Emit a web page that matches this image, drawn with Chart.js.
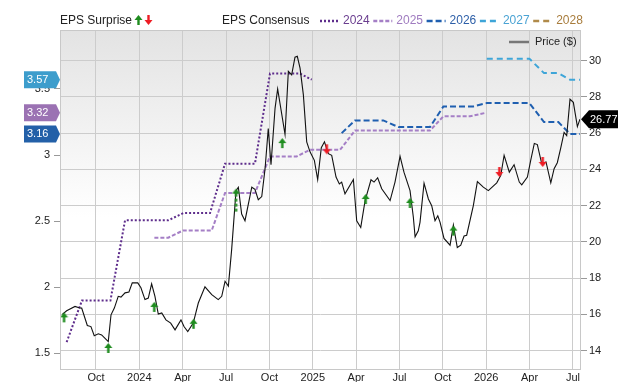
<!DOCTYPE html>
<html lang="en">
<head>
<meta charset="UTF-8">
<title>EPS Surprise and Consensus</title>
<script src="https://cdn.jsdelivr.net/npm/chart.js"></script>
<style>
  html, body { margin: 0; padding: 0; background: #fff; }
</style>
</head>
<body>
<canvas id="epsChart" width="640" height="382"></canvas>
<script>
// x is counted in months from Jan 2023 (9 = Oct 2023, 12 = Jan 2024 ...)
const xTicks = [9, 12, 15, 18, 21, 24, 27, 30, 33, 36, 39, 42];
const xTickLabels = ['Oct', '2024', 'Apr', 'Jul', 'Oct', '2025', 'Apr', 'Jul', 'Oct', '2026', 'Apr', 'Jul'];
const epsTicks = [1.5, 2, 2.5, 3, 3.5];
const priceTicks = [14, 16, 18, 20, 22, 24, 26, 28, 30];

const priceMonths = [6.67, 6.97, 7.55, 7.82, 8.01, 8.40, 8.65, 8.88, 9.16, 9.39, 9.85, 10.04, 10.27, 10.54, 10.73,
  11.01, 11.28, 11.51, 11.89, 12.11, 12.39, 12.62, 12.85, 13.08, 13.31, 13.55, 13.84, 14.17, 14.47, 14.88,
  15.09, 15.35, 15.73, 16.08, 16.54, 17.01, 17.46, 17.70, 17.93, 18.16, 18.39, 18.69, 18.85, 19.08, 19.31,
  19.78, 20.00, 20.23, 20.47, 20.70, 20.92, 21.11, 21.39, 21.57, 22.08, 22.31, 22.54, 22.77, 22.93, 23.12,
  23.35, 23.58, 23.81, 24.11, 24.34, 24.59, 24.81, 25.08, 25.31, 25.61, 25.84, 26.00, 26.23, 26.81, 27.04,
  27.32, 27.62, 28.03, 28.24, 28.49, 28.77, 29.35, 29.69, 30.04, 30.31, 30.73, 30.96, 31.08, 31.30, 31.42,
  31.70, 32.00, 32.23, 32.46, 32.65, 32.81, 33.08, 33.50, 33.73, 34.00, 34.24, 34.47, 34.65, 35.11, 35.39,
  35.80, 36.15, 36.73, 37.01, 37.24, 37.60, 37.93, 38.29, 38.46, 38.85, 39.08, 39.33, 39.54, 39.84, 40.14,
  40.47, 40.70, 40.92, 41.16, 41.39, 41.57, 41.80, 42.03, 42.31, 42.49];
const priceValues = [16.0, 16.2, 16.44, 16.37, 16.35, 15.39, 15.33, 14.83, 14.93, 14.87, 14.5, 15.98, 16.35, 17.0, 16.96,
  17.19, 17.24, 17.74, 17.74, 17.47, 16.82, 16.9, 17.69, 17.0, 16.02, 16.08, 15.7, 15.52, 15.15, 15.7,
  15.33, 15.06, 15.52, 16.63, 17.52, 17.09, 16.82, 17.0, 17.83, 17.56, 19.6, 22.83, 23.02, 21.54, 21.17,
  23.02, 22.9, 22.33, 22.5, 24.04, 26.26, 24.26, 27.37, 28.44, 25.93, 29.41, 29.22, 30.19, 30.24, 29.59,
  28.11, 25.52, 24.97, 24.5, 23.44, 25.2, 25.52, 24.87, 24.78, 23.58, 23.2, 23.3, 22.65, 23.44, 21.17,
  20.8, 22.28, 23.43, 23.3, 23.54, 22.93, 22.28, 23.3, 24.72, 23.85, 22.83, 21.36, 20.28, 20.61, 21.08,
  23.24, 22.37, 22.0, 21.17, 21.44, 21.08, 20.19, 19.82, 20.93, 19.69, 19.82, 20.33, 20.37, 22.0, 23.33,
  23.02, 22.83, 23.26, 23.67, 24.78, 23.85, 24.26, 23.3, 23.15, 23.58, 24.5, 25.43, 25.37, 24.32, 24.41,
  23.26, 24.04, 24.37, 25.19, 26.04, 25.86, 27.87, 27.7, 26.36, 26.77];

// EPS consensus by fiscal year
const cons2024Months = [6.97, 8.03, 10.0, 11.01, 14.0, 15.04, 16.89, 17.93, 20.0, 21.04, 23.12, 23.93];
const cons2024Values = [1.585, 1.90, 1.90, 2.506, 2.506, 2.561, 2.561, 2.935, 2.935, 3.616, 3.616, 3.57];
const cons2025Months = [13.04, 14.0, 15.04, 17.01, 17.93, 20.0, 21.04, 22.89, 23.81, 25.89, 26.92, 32.11, 33.04, 34.88, 35.99];
const cons2025Values = [2.375, 2.375, 2.43, 2.43, 2.713, 2.713, 2.99, 2.99, 3.04, 3.04, 3.185, 3.185, 3.293, 3.293, 3.32];
const cons2026Months = [26.0, 26.92, 28.88, 29.92, 32.11, 33.04, 35.11, 36.04, 38.99, 40.0, 40.99, 41.8, 42.49];
const cons2026Values = [3.166, 3.262, 3.262, 3.212, 3.212, 3.368, 3.368, 3.393, 3.393, 3.25, 3.25, 3.16, 3.16];
const cons2027Months = [36.04, 38.99, 40.0, 41.0, 41.8, 42.49];
const cons2027Values = [3.729, 3.729, 3.62, 3.62, 3.57, 3.57];
const cons2028Months = [];
const cons2028Values = [];
const consYears = ['2024', '2025', '2026', '2027', '2028'];

// reported EPS with surprise direction
const surpriseMonths = [6.79, 9.85, 13.03, 15.75, 18.69, 21.89, 24.97, 27.66, 30.73, 33.73, 36.91, 39.91];
const surpriseEps = [1.78, 1.548, 1.859, 1.731, 2.716, 3.098, 3.036, 2.675, 2.645, 2.436, 2.864, 2.94];
const surpriseDir = ['up', 'up', 'up', 'up', 'up', 'up', 'down', 'up', 'up', 'up', 'down', 'down'];

const FONT = '"Liberation Sans", Arial, sans-serif';
const GREEN = '#1e8c1e';
const RED = '#ee1c24';
const yearStyle = {
  '2024': { color: '#5e2d8c', text: '#6a3d8f', dash: [2, 2] },
  '2025': { color: '#a57fc6', text: '#a07cc0', dash: [4, 2] },
  '2026': { color: '#1f5fb0', text: '#2d5fa8', dash: [6, 3] },
  '2027': { color: '#3ea5d8', text: '#4aa3d4', dash: [6, 4] },
  '2028': { color: '#b08a4a', text: '#a87c3c', dash: [6, 4] }
};

function toPoints(xs, ys) {
  return xs.map((x, i) => ({ x: x, y: ys[i] }));
}

// little arrow images for the surprise markers; head sits at the canvas centre
function makeArrow(color, dir, stemLen, dashed) {
  const c = document.createElement('canvas');
  c.width = 9;
  c.height = 2 * (stemLen + 2) + 2;
  const g = c.getContext('2d');
  const cy = c.height / 2;
  g.fillStyle = color;
  g.strokeStyle = color;
  g.lineWidth = 2.4;
  const s = dir === 'up' ? 1 : -1;
  g.beginPath();
  g.moveTo(4.5, cy - 4 * s);
  g.lineTo(8.5, cy + 1 * s);
  g.lineTo(0.5, cy + 1 * s);
  g.closePath();
  g.fill();
  if (dashed) g.setLineDash([3, 2]);
  g.beginPath();
  g.moveTo(4.5, cy + 1 * s);
  g.lineTo(4.5, cy + (1 + stemLen) * s);
  g.stroke();
  return c;
}

const arrowUp = makeArrow(GREEN, 'up', 5, false);
const arrowDown = makeArrow(RED, 'down', 5, false);
const arrowUpLong = makeArrow(GREEN, 'up', 19, true);
const surpriseStyles = surpriseDir.map((d, i) => {
  if (d === 'down') return arrowDown;
  return (i === 4) ? arrowUpLong : arrowUp;
});

function consDataset(year, xs, ys) {
  const st = yearStyle[year];
  return {
    label: year,
    data: toPoints(xs, ys),
    yAxisID: 'y',
    borderColor: st.color,
    borderWidth: 2,
    borderDash: st.dash,
    pointRadius: 0,
    tension: 0,
    fill: false,
    order: 2
  };
}

const bgPlugin = {
  id: 'plotBg',
  beforeDraw(chart) {
    const { ctx, chartArea: a } = chart;
    const grad = ctx.createLinearGradient(0, a.top, 0, a.bottom);
    grad.addColorStop(0, '#e3e3e3');
    grad.addColorStop(0.55, '#ffffff');
    grad.addColorStop(1, '#ffffff');
    ctx.save();
    ctx.fillStyle = grad;
    ctx.fillRect(a.left, a.top, a.right - a.left, a.bottom - a.top);
    ctx.restore();
  }
};

const overlayPlugin = {
  id: 'overlay',
  afterDraw(chart) {
    const { ctx, chartArea: a } = chart;
    const yEps = chart.scales.y;
    const yPrice = chart.scales.y1;
    ctx.save();

    // plot frame
    ctx.strokeStyle = '#c8c8c8';
    ctx.lineWidth = 1;
    ctx.strokeRect(a.left + 0.5, a.top + 0.5, a.right - a.left - 1, a.bottom - a.top - 1);

    // top legend
    ctx.font = '12px ' + FONT;
    ctx.textBaseline = 'middle';
    ctx.textAlign = 'left';
    ctx.fillStyle = '#222';
    ctx.fillText('EPS Surprise', 60, 21);
    ctx.drawImage(arrowUp, 138.5 - arrowUp.width / 2, 19 - arrowUp.height / 2);
    ctx.drawImage(arrowDown, 148.5 - arrowDown.width / 2, 21 - arrowDown.height / 2);
    ctx.fillStyle = '#222';
    ctx.fillText('EPS Consensus', 222, 21);
    consYears.forEach((yr, i) => {
      const st = yearStyle[yr];
      const x0 = 320 + i * 53.3;
      ctx.strokeStyle = st.color;
      ctx.lineWidth = 2.5;
      ctx.setLineDash(st.dash);
      ctx.beginPath();
      ctx.moveTo(x0, 21);
      ctx.lineTo(x0 + 19, 21);
      ctx.stroke();
      ctx.setLineDash([]);
      ctx.fillStyle = st.text;
      ctx.fillText(yr, x0 + 23, 21);
    });

    // price legend inside plot
    ctx.strokeStyle = '#777';
    ctx.lineWidth = 2.5;
    ctx.beginPath();
    ctx.moveTo(509, 42);
    ctx.lineTo(529, 42);
    ctx.stroke();
    ctx.fillStyle = '#222';
    ctx.font = '11px ' + FONT;
    ctx.fillText('Price ($)', 535, 42);

    // latest consensus badges on the left axis
    const badges = [
      { v: cons2027Values[cons2027Values.length - 1], c: '#3d9dcc' },
      { v: cons2025Values[cons2025Values.length - 1], c: '#9b72b3' },
      { v: cons2026Values[cons2026Values.length - 1], c: '#2360a8' }
    ];
    ctx.font = '11px ' + FONT;
    badges.forEach(b => {
      const y = yEps.getPixelForValue(b.v);
      ctx.fillStyle = b.c;
      ctx.beginPath();
      ctx.moveTo(24, y - 8.5);
      ctx.lineTo(56, y - 8.5);
      ctx.lineTo(60, y);
      ctx.lineTo(56, y + 8.5);
      ctx.lineTo(24, y + 8.5);
      ctx.closePath();
      ctx.fill();
      ctx.fillStyle = '#fff';
      ctx.fillText(b.v.toFixed(2), 27, y + 0.5);
    });

    // last price badge on the right axis
    const lastPrice = priceValues[priceValues.length - 1];
    const py = yPrice.getPixelForValue(lastPrice);
    ctx.fillStyle = '#000';
    ctx.beginPath();
    ctx.moveTo(581, py);
    ctx.lineTo(589, py - 9);
    ctx.lineTo(618, py - 9);
    ctx.lineTo(618, py + 9);
    ctx.lineTo(589, py + 9);
    ctx.closePath();
    ctx.fill();
    ctx.fillStyle = '#fff';
    ctx.fillText(lastPrice.toFixed(2), 590, py + 0.5);

    ctx.restore();
  }
};

const ctx = document.getElementById('epsChart').getContext('2d');

const epsChart = new Chart(ctx, {
  type: 'line',
  data: {
    datasets: [
      {
        label: 'EPS Surprise',
        data: toPoints(surpriseMonths, surpriseEps),
        yAxisID: 'y',
        showLine: false,
        pointStyle: surpriseStyles,
        pointRadius: 5,
        order: 0
      },
      {
        label: 'Price ($)',
        data: toPoints(priceMonths, priceValues),
        yAxisID: 'y1',
        borderColor: '#111',
        borderWidth: 1.1,
        pointRadius: 0,
        tension: 0,
        fill: false,
        order: 1
      },
      consDataset('2024', cons2024Months, cons2024Values),
      consDataset('2025', cons2025Months, cons2025Values),
      consDataset('2026', cons2026Months, cons2026Values),
      consDataset('2027', cons2027Months, cons2027Values),
      consDataset('2028', cons2028Months, cons2028Values)
    ]
  },
  options: {
    responsive: false,
    animation: false,
    devicePixelRatio: 1,
    layout: { padding: { top: 30, left: 0, right: 0, bottom: 0 } },
    plugins: {
      legend: { display: false },
      tooltip: { enabled: false }
    },
    scales: {
      x: {
        type: 'linear',
        min: 6.51,
        max: 42.56,
        afterBuildTicks: axis => { axis.ticks = xTicks.map(v => ({ value: v })); },
        afterFit: axis => { axis.height = 12; },
        ticks: {
          autoSkip: false,
          maxRotation: 0,
          padding: 1,
          color: '#222',
          font: { size: 11, family: FONT },
          callback: v => {
            const i = xTicks.indexOf(v);
            return i >= 0 ? xTickLabels[i] : '';
          }
        },
        grid: { color: '#cccccc', tickLength: 0 },
        border: { display: false }
      },
      y: {
        position: 'left',
        min: 1.374,
        max: 3.946,
        afterBuildTicks: axis => { axis.ticks = epsTicks.map(v => ({ value: v })); },
        afterFit: axis => { axis.width = 60; },
        ticks: {
          padding: 4,
          color: '#222',
          font: { size: 11, family: FONT },
          callback: v => String(v)
        },
        grid: { drawOnChartArea: false, tickLength: 6, color: '#999' },
        border: { display: false }
      },
      y1: {
        position: 'right',
        min: 12.935,
        max: 31.69,
        afterBuildTicks: axis => { axis.ticks = priceTicks.map(v => ({ value: v })); },
        afterFit: axis => { axis.width = 59; },
        ticks: {
          padding: 2,
          color: '#222',
          font: { size: 11, family: FONT },
          callback: v => String(v)
        },
        grid: { color: '#cccccc', tickLength: 6, tickColor: '#999' },
        border: { display: false }
      }
    }
  },
  plugins: [bgPlugin, overlayPlugin]
});
</script>
</body>
</html>
